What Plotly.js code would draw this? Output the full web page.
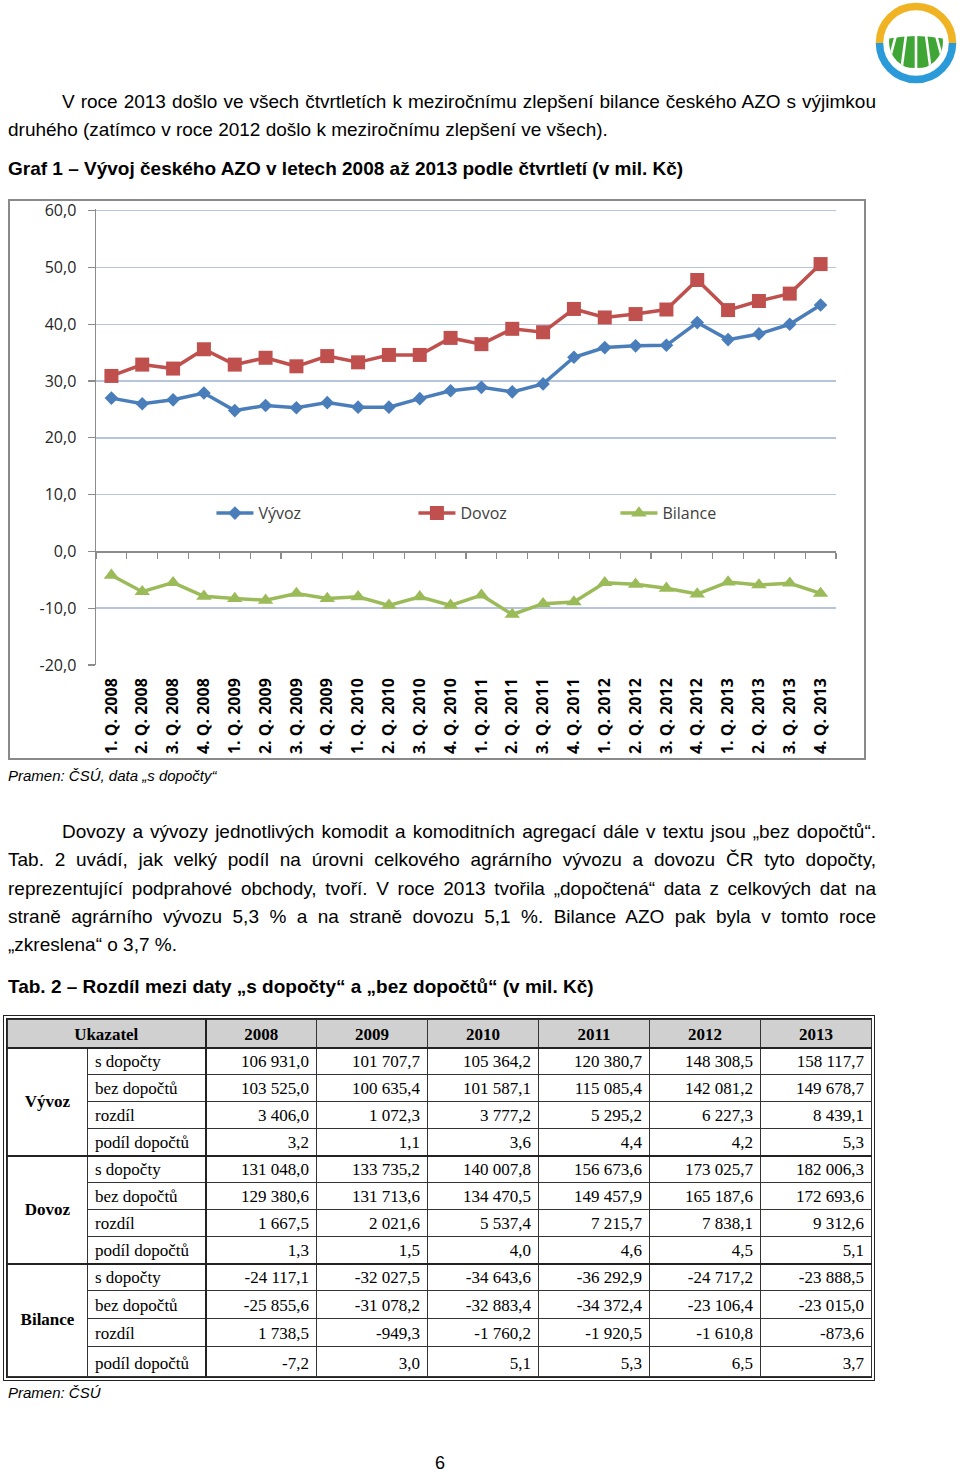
<!DOCTYPE html>
<html>
<head>
<meta charset="utf-8">
<script src="https://cdn.plot.ly/plotly-3.0.1.min.js"></script>
<style>
  html, body { margin:0; padding:0; background:#fff; }
  body { width:960px; height:1475px; position:relative; overflow:hidden; font-family:"Liberation Sans", Arial, sans-serif; color:#000; }
  .t { position:absolute; white-space:nowrap; font-size:19px; line-height:20px; }
  .j { text-align:justify; text-align-last:justify; }
  .b { font-weight:bold; font-size:19px; }
  .it { font-style:italic; font-size:15px; line-height:18px; }
  #chartBox { position:absolute; left:8px; top:199px; width:858px; height:561px; border:2px solid #8a8a8a; box-sizing:border-box; }
  #chart { position:absolute; left:0px; top:-4px; width:854px; height:561px; }
  #tabWrap { position:absolute; left:3px; top:1015px; width:872px; border:4px double #222; box-sizing:border-box; }
  #tab { border-collapse:collapse; table-layout:fixed; width:864px; font-family:"Liberation Serif", "Times New Roman", serif; font-size:17px; }
  #tab td, #tab th { border:1px solid #333; padding:0 7px 2px 7px; vertical-align:bottom; line-height:20px; overflow:hidden; white-space:nowrap; }
  #tab th { background:#d0d0d0; font-weight:bold; text-align:center; }
  #tab td.num { text-align:right; }
  #tab td.grp { font-weight:bold; text-align:center; vertical-align:middle; padding:0; }
  #tab td.lab { text-align:left; }
  #tab .thickL { border-left:2px solid #222; }
  #tab tr.thickT td { border-top:2px solid #222; }
  #tab tr.hdr th { border-bottom:2px solid #222; }
</style>
</head>
<body>

<svg style="position:absolute;left:872px;top:0px" width="88" height="88" viewBox="0 0 88 88">
  <defs>
    <clipPath id="fieldClip">
      <path d="M10,38 Q44,32 78,38 L78,90 L10,90 Z"/>
    </clipPath>
    <clipPath id="circClip"><circle cx="44" cy="42" r="27"/></clipPath>
  </defs>
  <path d="M7.5,43 A36.5,36.5 0 0 1 80.5,43" fill="none" stroke="#f0b323" stroke-width="7.5"/>
  <path d="M7.5,43 A36.5,36.5 0 0 0 80.5,43" fill="none" stroke="#2b9ad8" stroke-width="7.5"/>
  <g clip-path="url(#circClip)">
    <g clip-path="url(#fieldClip)">
      <path d="M10,40 Q44,32 78,40 L78,62 Q44,74 10,62 Z" fill="#3fa535"/>
      <g stroke="#fff" stroke-width="2.6">
        <line x1="44" y1="-40" x2="-20" y2="80"/>
        <line x1="44" y1="-40" x2="-4" y2="80"/>
        <line x1="44" y1="-40" x2="12" y2="80"/>
        <line x1="44" y1="-40" x2="28" y2="80"/>
        <line x1="44" y1="-40" x2="44" y2="80"/>
        <line x1="44" y1="-40" x2="60" y2="80"/>
        <line x1="44" y1="-40" x2="76" y2="80"/>
        <line x1="44" y1="-40" x2="92" y2="80"/>
        <line x1="44" y1="-40" x2="108" y2="80"/>
      </g>
    </g>
  </g>
</svg>

<div class="t j" style="left:62px;top:92px;width:814px;">V roce 2013 došlo ve všech čtvrtletích k meziročnímu zlepšení bilance českého AZO s výjimkou</div>
<div class="t" style="left:8px;top:120px;">druhého (zatímco v roce 2012 došlo k meziročnímu zlepšení ve všech).</div>
<div class="t b" style="left:8px;top:159px;">Graf 1 – Vývoj českého AZO v letech 2008 až 2013 podle čtvrtletí (v mil. Kč)</div>

<div id="chartBox"><div id="chart"></div></div>

<div class="t it" style="left:8px;top:767px;">Pramen: ČSÚ, data „s dopočty“</div>

<div class="t j" style="left:62px;top:822px;width:814px;">Dovozy a vývozy jednotlivých komodit a komoditních agregací dále v textu jsou „bez dopočtů“.</div>
<div class="t j" style="left:8px;top:850px;width:868px;">Tab. 2 uvádí, jak velký podíl na úrovni celkového agrárního vývozu a dovozu ČR tyto dopočty,</div>
<div class="t j" style="left:8px;top:879px;width:868px;">reprezentující podprahové obchody, tvoří. V roce 2013 tvořila „dopočtená“ data z celkových dat na</div>
<div class="t j" style="left:8px;top:907px;width:868px;">straně agrárního vývozu 5,3&nbsp;% a na straně dovozu 5,1 %. Bilance AZO pak byla v tomto roce</div>
<div class="t" style="left:8px;top:935px;">„zkreslena“ o 3,7 %.</div>

<div class="t b" style="left:8px;top:977px;">Tab. 2 – Rozdíl mezi daty „s dopočty“ a „bez dopočtů“ (v mil. Kč)</div>

<div id="tabWrap"><table id="tab"></table></div>

<div class="t it" style="left:8px;top:1384px;">Pramen: ČSÚ</div>
<div class="t" style="left:435px;top:1454px;font-size:18px;line-height:18px;">6</div>

<script>
// ---------- Chart data ----------
const quarters = ['1. Q. 2008','2. Q. 2008','3. Q. 2008','4. Q. 2008',
                  '1. Q. 2009','2. Q. 2009','3. Q. 2009','4. Q. 2009',
                  '1. Q. 2010','2. Q. 2010','3. Q. 2010','4. Q. 2010',
                  '1. Q. 2011','2. Q. 2011','3. Q. 2011','4. Q. 2011',
                  '1. Q. 2012','2. Q. 2012','3. Q. 2012','4. Q. 2012',
                  '1. Q. 2013','2. Q. 2013','3. Q. 2013','4. Q. 2013'];
const vyvoz   = [27.0, 26.0, 26.7, 27.9, 24.8, 25.7, 25.3, 26.2, 25.4, 25.4, 26.9, 28.3,
                 28.9, 28.1, 29.5, 34.2, 35.9, 36.2, 36.3, 40.3, 37.3, 38.3, 40.0, 43.4];
const dovoz   = [30.9, 32.9, 32.2, 35.6, 32.9, 34.1, 32.6, 34.4, 33.3, 34.6, 34.6, 37.6,
                 36.5, 39.2, 38.6, 42.7, 41.2, 41.8, 42.6, 47.8, 42.5, 44.1, 45.4, 50.6];
const bilance = [-4.2, -7.1, -5.5, -7.9, -8.3, -8.6, -7.4, -8.3, -8.0, -9.5, -8.0, -9.5,
                 -7.7, -11.1, -9.2, -8.9, -5.5, -5.8, -6.5, -7.5, -5.4, -5.9, -5.6, -7.4];
const seriesNames = ['Vývoz', 'Dovoz', 'Bilance'];
const yTickVals = [-20, -10, 0, 10, 20, 30, 40, 50, 60];
const yTickText = ['-20,0', '-10,0', '0,0', '10,0', '20,0', '30,0', '40,0', '50,0', '60,0'];

// ---------- Table data (mil. Kč) ----------
const tabYears   = ['2008', '2009', '2010', '2011', '2012', '2013'];
const tabGroups  = ['Vývoz', 'Dovoz', 'Bilance'];
const tabRowLabels = ['s dopočty', 'bez dopočtů', 'rozdíl', 'podíl dopočtů'];
const vyvozS       = [106931.0, 101707.7, 105364.2, 120380.7, 148308.5, 158117.7];
const vyvozBez     = [103525.0, 100635.4, 101587.1, 115085.4, 142081.2, 149678.7];
const vyvozRozdil  = [3406.0, 1072.3, 3777.2, 5295.2, 6227.3, 8439.1];
const vyvozPodil   = [3.2, 1.1, 3.6, 4.4, 4.2, 5.3];
const dovozS       = [131048.0, 133735.2, 140007.8, 156673.6, 173025.7, 182006.3];
const dovozBez     = [129380.6, 131713.6, 134470.5, 149457.9, 165187.6, 172693.6];
const dovozRozdil  = [1667.5, 2021.6, 5537.4, 7215.7, 7838.1, 9312.6];
const dovozPodil   = [1.3, 1.5, 4.0, 4.6, 4.5, 5.1];
const bilanceS      = [-24117.1, -32027.5, -34643.6, -36292.9, -24717.2, -23888.5];
const bilanceBez    = [-25855.6, -31078.2, -32883.4, -34372.4, -23106.4, -23015.0];
const bilanceRozdil = [1738.5, -949.3, -1760.2, -1920.5, -1610.8, -873.6];
const bilancePodil  = [-7.2, 3.0, 5.1, 5.3, 6.5, 3.7];

// ---------- Chart ----------
const blue = '#4a7ebb', red = '#c0504d', green = '#9bbb59';
const traces = [
  { type:'scatter', mode:'lines+markers', name:seriesNames[0], x:quarters, y:vyvoz,
    xaxis:'x', yaxis:'y',
    line:{color:blue, width:3.5}, marker:{symbol:'diamond', size:10.5, color:blue} },
  { type:'scatter', mode:'lines+markers', name:seriesNames[1], x:quarters, y:dovoz,
    xaxis:'x', yaxis:'y',
    line:{color:red, width:3.5}, marker:{symbol:'square', size:14, color:red} },
  { type:'scatter', mode:'lines+markers', name:seriesNames[2], x:quarters, y:bilance,
    xaxis:'x2', yaxis:'y',
    line:{color:green, width:3.5}, marker:{symbol:'triangle-up', size:13.5, color:green} }
];

const layout = {
  width:854, height:561,
  margin:{l:86, r:28, t:12.3, b:93},
  paper_bgcolor:'rgba(0,0,0,0)', plot_bgcolor:'rgba(0,0,0,0)',
  showlegend:true,
  legend:{orientation:'h', x:0.156, xanchor:'left', y:0.333, yanchor:'middle',
          font:{family:'"Open Sans", "Noto Sans", sans-serif', size:16, color:'#404040'},
          itemwidth:37, entrywidth:150, entrywidthmode:'pixels', bgcolor:'rgba(0,0,0,0)', traceorder:'normal'},
  xaxis:{type:'category', range:[-0.5, 23.5], showgrid:false, zeroline:false, showline:false,
         ticks:'', tickangle:-90, automargin:false, ticklabelstandoff:9,
         tickfont:{family:'"Open Sans", "Noto Sans", sans-serif', size:16, color:'#000', weight:'bold'}},
  xaxis2:{type:'category', overlaying:'x', anchor:'free', position:20/80.3, side:'bottom',
          range:[-0.5, 23.5], showgrid:false, zeroline:false, showline:true, linecolor:'#8c8c8c', linewidth:1.5,
          ticks:'outside', tickson:'boundaries', ticklen:6, tickwidth:1.2, tickcolor:'#8c8c8c',
          showticklabels:false},
  yaxis:{range:[-20, 60.3], tickvals:yTickVals, ticktext:yTickText, showgrid:true, gridcolor:'#b6c5dc', gridwidth:1.5,
         zeroline:false, showline:true, linecolor:'#8c8c8c', linewidth:1.5, ticklabeloverflow:'allow',
         ticks:'outside', ticklen:7, tickwidth:1.2, tickcolor:'#8c8c8c', ticklabelstandoff:8, automargin:false,
         tickfont:{family:'"Open Sans", "Noto Sans", sans-serif', size:16, color:'#262626'}}
};

Plotly.newPlot('chart', traces, layout, {displayModeBar:false, staticPlot:true});

// ---------- Table ----------
function fmt(v) {
  const neg = v < 0;
  const s = Math.abs(v).toFixed(1);
  const parts = s.split('.');
  const intPart = parts[0].replace(/\B(?=(\d{3})+(?!\d))/g, '\u00a0');
  return (neg ? '-' : '') + intPart + ',' + parts[1];
}
const tabData = [
  [vyvozS, vyvozBez, vyvozRozdil, vyvozPodil],
  [dovozS, dovozBez, dovozRozdil, dovozPodil],
  [bilanceS, bilanceBez, bilanceRozdil, bilancePodil]
];
const rowH = [[27,27,27,27],[27,27,27,27],[27,28,28,30]];
const tab = document.getElementById('tab');
let html = '<colgroup><col style="width:80px"><col style="width:118px">';
tabYears.forEach(() => { html += '<col style="width:111px">'; });
html += '</colgroup>';
html += '<tr class="hdr" style="height:28px"><th colspan="2">Ukazatel</th>';
tabYears.forEach((y, i) => { html += '<th' + (i === 0 ? ' class="thickL"' : '') + '>' + y + '</th>'; });
html += '</tr>';
tabGroups.forEach((g, gi) => {
  tabRowLabels.forEach((lab, ri) => {
    html += '<tr' + (ri === 0 && gi > 0 ? ' class="thickT"' : '') + ' style="height:' + rowH[gi][ri] + 'px">';
    if (ri === 0) html += '<td class="grp" rowspan="4">' + g + '</td>';
    html += '<td class="lab">' + lab + '</td>';
    tabData[gi][ri].forEach((v, ci) => {
      html += '<td class="num' + (ci === 0 ? ' thickL' : '') + '">' + fmt(v) + '</td>';
    });
    html += '</tr>';
  });
});
tab.innerHTML = html;
</script>
</body>
</html>
